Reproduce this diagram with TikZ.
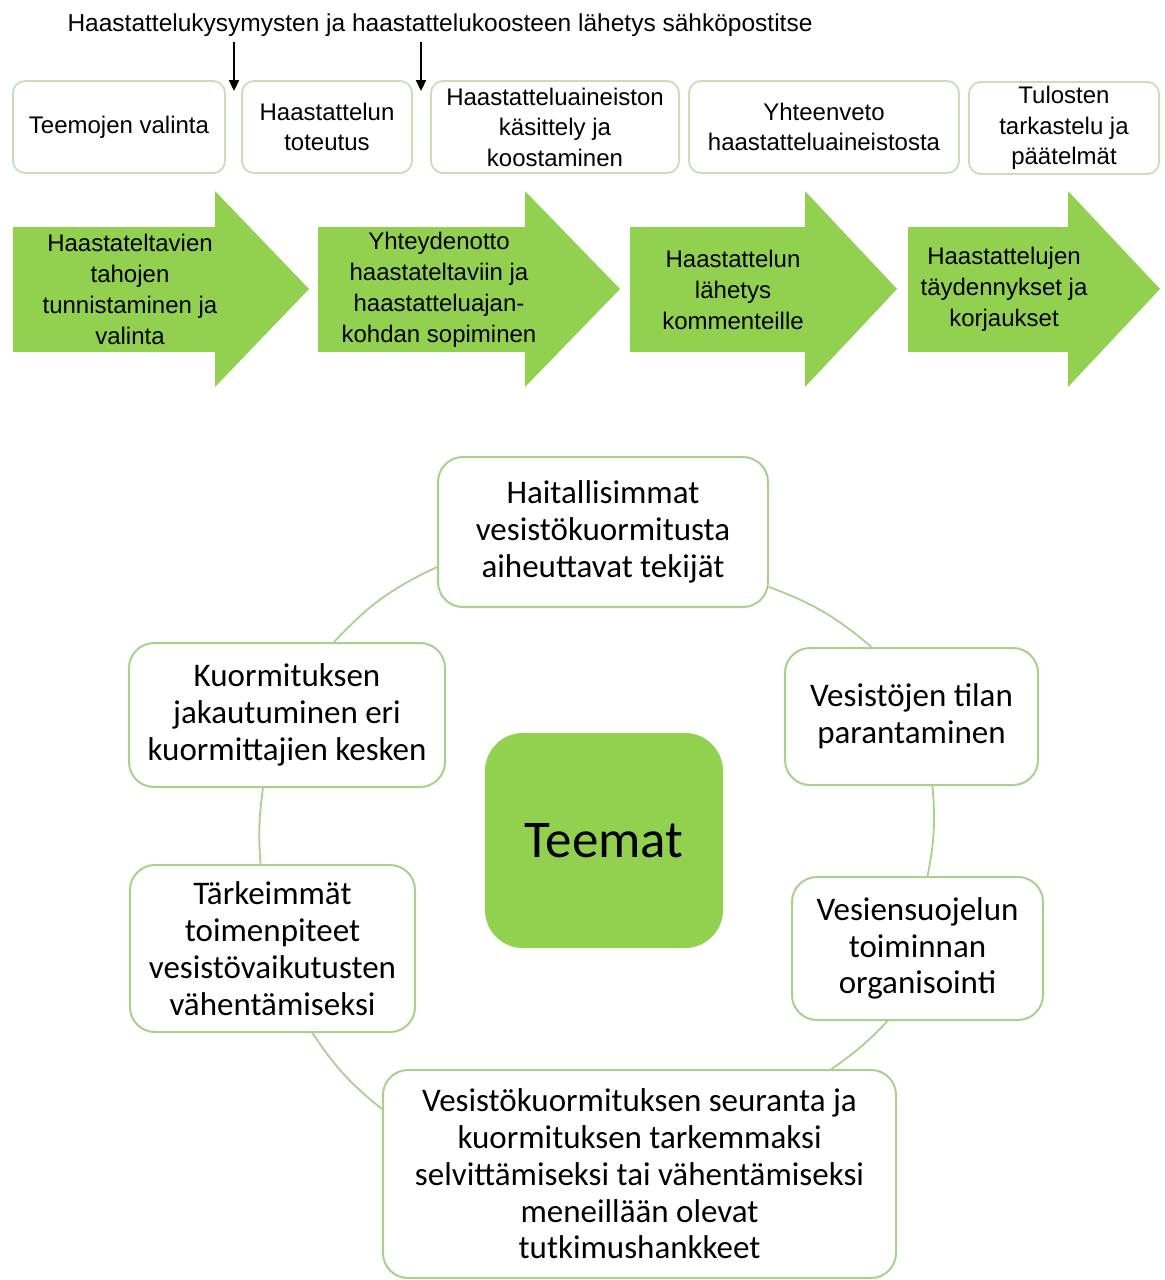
\documentclass[tikz,border=0pt]{standalone}
\usepackage{fontspec}
\setmainfont{Liberation Sans}
\newfontfamily\calibri{Carlito}
\usetikzlibrary{arrows.meta, positioning}
\definecolor{leaf}{HTML}{92D050}
\definecolor{rim}{HTML}{A9D18E}
\definecolor{rimlight}{HTML}{C5E0B4}

\begin{document}
\begin{tikzpicture}[x=1bp, y=-1bp, >={Triangle[length=11bp, width=10bp]},
    stage/.style={rectangle, rounded corners=12bp, draw=rimlight, line width=1.8bp,
      fill=white, align=center, inner sep=2bp, minimum height=92bp,
      font=\fontsize{24bp}{30.5bp}\selectfont},
    flowtxt/.style={align=center, inner sep=0pt,
      font=\fontsize{24bp}{31bp}\selectfont},
    topic/.style={rectangle, rounded corners=25bp, draw=rim, line width=2bp,
      fill=white, align=center, inner sep=2bp,
      font=\calibri\fontsize{33bp}{36.8bp}\selectfont},
    hub/.style={rectangle, rounded corners=38bp, fill=leaf, minimum width=238bp,
      minimum height=215bp, font=\calibri\fontsize{53bp}{60bp}\selectfont},
    ring/.style={draw=rim, line width=1.8bp},
    cue/.style={->, line width=2.2bp, shorten <=5bp}]

  \fill[white] (0,0) rectangle (1165,1280);
  \useasboundingbox (0,0) rectangle (1165,1280);

  % heading with the two e-mail arrows
  \node[inner sep=0pt, font=\fontsize{24.5bp}{30bp}\selectfont] (head) at (440,25)
    {Haastattelukysymysten ja haastattelukoosteen lähetys sähköpostitse};

  % upper row of phases
  \node[stage, minimum width=212bp] (t1) at (119,127) {Teemojen valinta};
  \node[stage, minimum width=170bp] (t2) at (327,127) {Haastattelun\\toteutus};
  \node[stage, minimum width=248bp] (t3) at (555,127)
    {Haastatteluaineiston\\käsittely ja\\koostaminen};
  \node[stage, minimum width=270bp] (t4) at (824,127)
    {Yhteenveto\\haastatteluaineistosta};
  \node[stage, minimum width=190bp] (t5) at (1064,128)
    {Tulosten\\tarkastelu ja\\päätelmät};

  \coordinate (e1) at (234,91);
  \coordinate (e2) at (421,91);
  \draw[cue] (head.south -| e1) -- (e1);
  \draw[cue] (head.south -| e2) -- (e2);

  % green process arrows
  \foreach \xa/\xb/\xc in {13/215/309, 318/525/620, 630/805/897, 908/1068/1160}
    \fill[leaf] (\xa,227) -- (\xb,227) -- (\xb,191) -- (\xc,289) -- (\xb,387)
      -- (\xb,352) -- (\xa,352) -- cycle;

  \node[flowtxt] (g1) at (130,289)
    {Haastateltavien\\tahojen\\tunnistaminen ja\\valinta};
  \node[flowtxt] (g2) at (439,290)
    {Yhteydenotto\\haastateltaviin ja\\haastatteluajan-\\kohdan sopiminen};
  \node[flowtxt] (g3) at (733,290) {Haastattelun\\lähetys\\kommenteille};
  \node[flowtxt] (g4) at (1004,289)
    {Haastattelujen\\täydennykset ja\\korjaukset};

  % themes round the centre
  \node[hub] (core) at (604,840.5) {Teemat};

  \node[topic, minimum width=330bp, minimum height=150bp] (a) at (603,532)
    {Haitallisimmat\\vesistökuormitusta\\aiheuttavat tekijät};
  \node[topic, minimum width=253bp, minimum height=137bp] (b) at (911.5,716.5)
    {Vesistöjen tilan\\parantaminen};
  \node[topic, minimum width=251bp, minimum height=143bp] (c) at (917.5,948.5)
    {Vesiensuojelun\\toiminnan\\organisointi};
  \node[topic, minimum width=513bp, minimum height=208bp] (d) at (639.5,1174)
    {Vesistökuormituksen seuranta ja\\kuormituksen tarkemmaksi\\selvittämiseksi
     tai vähentämiseksi\\meneillään olevat\\tutkimushankkeet};
  \node[topic, minimum width=285bp, minimum height=167bp] (e) at (272.5,948.5)
    {Tärkeimmät\\toimenpiteet\\vesistövaikutusten\\vähentämiseksi};
  \node[topic, minimum width=316bp, minimum height=144bp] (f) at (287,715)
    {Kuormituksen\\jakautuminen eri\\kuormittajien kesken};

  % circle segments
  \draw[ring] ([xshift=47bp]f.north) to[bend left=11] ([yshift=-35bp]a.west);
  \draw[ring] ([yshift=-55bp]a.east) to[bend left=10] ([xshift=-40bp]b.north);
  \draw[ring] ([xshift=21bp]b.south) to[bend left=8] ([xshift=10bp]c.north);
  \draw[ring] ([xshift=-30bp]c.south) to[bend left=6] ([xshift=192bp]d.north);
  \draw[ring] ([yshift=65bp]d.west) to[bend left=9] ([xshift=40bp]e.south);
  \draw[ring] ([xshift=-12bp]e.north) to[bend left=6] ([xshift=-24bp]f.south);

\end{tikzpicture}
\end{document}
